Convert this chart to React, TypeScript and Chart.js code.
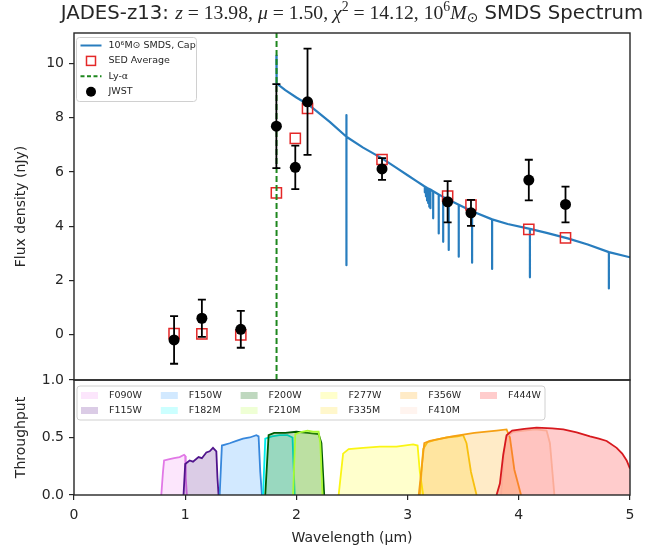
import React, { useEffect, useRef } from "react";
import { Chart, registerables } from "chart.js";

Chart.register(...registerables);

// ---------------- text ----------------
const TITLE = "JADES-z13: z = 13.98, μ = 1.50, χ² = 14.12, 10⁶M⊙ SMDS Spectrum";
const X_LABEL = "Wavelength (μm)";
const Y_FLUX_LABEL = "Flux density (nJy)";
const Y_THRU_LABEL = "Throughput";
const SPEC_LABEL = "10⁶M⊙ SMDS, Cap";
const SED_LABEL = "SED Average";
const LYA_LABEL = "Ly-α";
const JWST_LABEL = "JWST";

// ---------------- axes ----------------
const X_TICKS = [0, 1, 2, 3, 4, 5];
const FLUX_TICKS = [0, 2, 4, 6, 8, 10];
const THRU_TICKS = [0, 0.5, 1.0];
const X_MIN = 0;
const X_MAX = 5;
const FLUX_MIN = -1.68;
const FLUX_MAX = 11.13;
const THRU_MIN = 0;
const THRU_MAX = 1;

// ---------------- photometry ----------------
const PHOT_WAVE = [0.9, 1.15, 1.5, 1.82, 1.99, 2.1, 2.77, 3.36, 3.57, 4.09, 4.42];
const JWST_FLUX = [-0.2, 0.6, 0.19, 7.69, 6.17, 8.59, 6.11, 4.9, 4.49, 5.7, 4.8];
const JWST_ERR = [0.88, 0.69, 0.68, 1.55, 0.8, 1.96, 0.4, 0.76, 0.48, 0.75, 0.66];
const SED_FLUX = [0.03, 0.02, -0.02, 5.23, 7.24, 8.35, 6.46, 5.11, 4.78, 3.88, 3.57];
const LYA_WAVE = 1.8215;

// ---------------- model spectrum ----------------
const SPEC_WAVE = [
  1.82, 1.822, 1.9, 2.0, 2.12, 2.3,
  2.45, 2.45, 2.45, 2.45,
  2.6, 2.77, 2.9, 3.0, 3.08, 3.14,
  3.155, 3.155, 3.155,
  3.165, 3.165, 3.165,
  3.175, 3.175, 3.175,
  3.185, 3.185, 3.185,
  3.195, 3.195, 3.195,
  3.205, 3.205, 3.205,
  3.23, 3.23, 3.23,
  3.28, 3.28, 3.28,
  3.32, 3.32, 3.32,
  3.37, 3.37, 3.37,
  3.46, 3.46, 3.46,
  3.58, 3.58, 3.58,
  3.76, 3.76, 3.76,
  3.9, 4.1, 4.1, 4.1,
  4.25, 4.44, 4.62, 4.81, 4.81, 4.81, 5.0,
];
const SPEC_FLUX = [
  10.3, 9.27, 9.02, 8.75, 8.45, 7.85,
  7.3, 8.1, 2.56, 7.3,
  6.9, 6.5, 6.15, 5.88, 5.66, 5.5,
  5.46, 5.25, 5.46,
  5.44, 5.1, 5.44,
  5.41, 4.95, 5.41,
  5.39, 4.85, 5.39,
  5.37, 4.72, 5.37,
  5.35, 4.66, 5.35,
  5.29, 4.29, 5.29,
  5.17, 3.73, 5.17,
  5.08, 3.42, 5.08,
  4.97, 3.12, 4.97,
  4.79, 2.87, 4.79,
  4.55, 2.65, 4.55,
  4.25, 2.42, 4.25,
  4.08, 3.9, 2.11, 3.9,
  3.75, 3.55, 3.32, 3.04, 1.7, 3.04, 2.85,
];

// ---------------- filter throughputs ----------------
const F090W_WAVE = [0.785, 0.8, 0.81, 0.85, 0.9, 0.95, 0.99, 1.0, 1.005, 1.015];
const F090W_THRU = [0, 0.2, 0.3, 0.31, 0.32, 0.33, 0.35, 0.34, 0.15, 0];
const F115W_WAVE = [0.985, 1.0, 1.04, 1.07, 1.12, 1.15, 1.19, 1.22, 1.25, 1.28, 1.29, 1.3];
const F115W_THRU = [0, 0.27, 0.3, 0.29, 0.33, 0.32, 0.37, 0.38, 0.41, 0.38, 0.15, 0];
const F150W_WAVE = [1.31, 1.33, 1.4, 1.46, 1.52, 1.58, 1.64, 1.66, 1.675, 1.69];
const F150W_THRU = [0, 0.43, 0.45, 0.47, 0.49, 0.5, 0.52, 0.51, 0.2, 0];
const F182M_WAVE = [1.7, 1.72, 1.78, 1.85, 1.92, 1.965, 1.985];
const F182M_THRU = [0, 0.49, 0.51, 0.52, 0.52, 0.5, 0];
const F200W_WAVE = [1.72, 1.75, 1.8, 1.9, 2.0, 2.1, 2.2, 2.225, 2.25];
const F200W_THRU = [0, 0.52, 0.54, 0.54, 0.55, 0.54, 0.53, 0.45, 0];
const F210M_WAVE = [1.97, 1.99, 2.05, 2.1, 2.15, 2.2, 2.215, 2.235];
const F210M_THRU = [0, 0.53, 0.55, 0.56, 0.55, 0.55, 0.45, 0];
const F277W_WAVE = [2.38, 2.42, 2.47, 2.6, 2.75, 2.9, 3.05, 3.09, 3.11, 3.14];
const F277W_THRU = [0, 0.36, 0.4, 0.41, 0.42, 0.42, 0.44, 0.43, 0.2, 0];
const F335M_WAVE = [3.11, 3.14, 3.18, 3.25, 3.35, 3.45, 3.5, 3.53, 3.57, 3.62];
const F335M_THRU = [0, 0.4, 0.46, 0.48, 0.5, 0.51, 0.52, 0.45, 0.2, 0];
const F356W_WAVE = [3.1, 3.15, 3.2, 3.4, 3.6, 3.8, 3.89, 3.92, 3.96, 4.02];
const F356W_THRU = [0, 0.45, 0.47, 0.51, 0.54, 0.56, 0.57, 0.5, 0.22, 0];
const F410M_WAVE = [3.84, 3.88, 3.95, 4.05, 4.15, 4.25, 4.28, 4.32];
const F410M_THRU = [0, 0.5, 0.55, 0.56, 0.57, 0.56, 0.45, 0];
const F444W_WAVE = [3.8, 3.83, 3.86, 3.89, 3.94, 4.05, 4.16, 4.3, 4.4, 4.52, 4.64, 4.72, 4.79, 4.88, 4.93, 4.97, 5.0, 5.03, 5.06];
const F444W_THRU = [0, 0.1, 0.35, 0.52, 0.56, 0.575, 0.585, 0.58, 0.57, 0.545, 0.51, 0.49, 0.47, 0.41, 0.36, 0.3, 0.23, 0.12, 0];

const FILTERS = [
  { name: "F090W", wave: F090W_WAVE, thru: F090W_THRU, line: "rgb(225,120,230)", fill: "rgba(238,130,238,0.2)" },
  { name: "F115W", wave: F115W_WAVE, thru: F115W_THRU, line: "rgb(80,20,140)", fill: "rgba(75,0,130,0.2)" },
  { name: "F150W", wave: F150W_WAVE, thru: F150W_THRU, line: "rgb(55,135,220)", fill: "rgba(30,144,255,0.2)" },
  { name: "F182M", wave: F182M_WAVE, thru: F182M_THRU, line: "rgb(0,235,235)", fill: "rgba(0,255,255,0.2)" },
  { name: "F200W", wave: F200W_WAVE, thru: F200W_THRU, line: "rgb(0,90,0)", fill: "rgba(0,100,0,0.25)" },
  { name: "F210M", wave: F210M_WAVE, thru: F210M_THRU, line: "rgb(170,250,50)", fill: "rgba(173,255,47,0.2)" },
  { name: "F277W", wave: F277W_WAVE, thru: F277W_THRU, line: "rgb(250,245,20)", fill: "rgba(255,255,0,0.2)" },
  { name: "F335M", wave: F335M_WAVE, thru: F335M_THRU, line: "rgb(245,200,20)", fill: "rgba(255,215,0,0.2)" },
  { name: "F356W", wave: F356W_WAVE, thru: F356W_THRU, line: "rgb(245,160,20)", fill: "rgba(255,165,0,0.22)" },
  { name: "F410M", wave: F410M_WAVE, thru: F410M_THRU, line: "rgb(250,215,190)", fill: "rgba(255,200,175,0.2)" },
  { name: "F444W", wave: F444W_WAVE, thru: F444W_THRU, line: "rgb(215,25,30)", fill: "rgba(255,0,0,0.2)" },
];

// ---------------- styles ----------------
const SANS = "'DejaVu Sans', sans-serif";
const SERIF = "'Liberation Serif', 'DejaVu Serif', serif";
const INK = "#262626";
const SPEC_COLOR = "rgb(40,125,190)";
const SED_COLOR = "rgb(228,40,40)";
const LYA_COLOR = "rgb(30,135,30)";

const pts = (xs: number[], ys: number[]) => xs.map((x, i) => ({ x, y: ys[i] }));

const TITLE_SEGMENTS = [
  { t: "JADES-z13: ", f: "sans" },
  { t: "z", f: "ital" },
  { t: " = 13.98, ", f: "serif" },
  { t: "μ", f: "ital" },
  { t: " = 1.50, ", f: "serif" },
  { t: "χ", f: "ital" },
  { t: "2", f: "sup" },
  { t: " = 14.12, ", f: "serif" },
  { t: "10", f: "serif" },
  { t: "6", f: "sup" },
  { t: "M", f: "ital" },
  { t: "⊙", f: "sub" },
  { t: " SMDS Spectrum", f: "sans" },
];

const titlePlugin = {
  id: "mixedTitle",
  afterDraw(chart: any) {
    const ctx = chart.ctx as CanvasRenderingContext2D;
    const size = 19.7;
    const fontFor = (f: string) => {
      if (f === "sans") return `${size}px ${SANS}`;
      if (f === "ital") return `italic ${size}px ${SERIF}`;
      if (f === "sup") return `${size * 0.7}px ${SERIF}`;
      if (f === "sub") return `${size * 0.7}px ${SANS}`;
      return `${size}px ${SERIF}`;
    };
    ctx.save();
    let total = 0;
    const widths = TITLE_SEGMENTS.map((s) => {
      ctx.font = fontFor(s.f);
      const w = ctx.measureText(s.t).width;
      total += w;
      return w;
    });
    const cx = (chart.chartArea.left + chart.chartArea.right) / 2;
    let x = cx - total / 2;
    const base = 19;
    ctx.fillStyle = INK;
    ctx.textBaseline = "alphabetic";
    ctx.textAlign = "left";
    TITLE_SEGMENTS.forEach((s, i) => {
      ctx.font = fontFor(s.f);
      let y = base;
      if (s.f === "sup") y = base - size * 0.4;
      if (s.f === "sub") y = base + size * 0.15;
      ctx.fillText(s.t, x, y);
      x += widths[i];
    });
    ctx.restore();
  },
};

const errorBarPlugin = {
  id: "errorBars",
  beforeDatasetDraw(chart: any, args: any) {
    const ds = chart.data.datasets[args.index];
    if (!ds.errors) return;
    const ctx = chart.ctx as CanvasRenderingContext2D;
    const xs = chart.scales.x;
    const ys = chart.scales[ds.yAxisID];
    ctx.save();
    ctx.strokeStyle = "#000";
    ctx.lineWidth = 1.8;
    ds.data.forEach((p: any, i: number) => {
      const px = xs.getPixelForValue(p.x);
      const top = ys.getPixelForValue(p.y + ds.errors[i]);
      const bot = ys.getPixelForValue(p.y - ds.errors[i]);
      ctx.beginPath();
      ctx.moveTo(px, top);
      ctx.lineTo(px, bot);
      ctx.moveTo(px - 4, top);
      ctx.lineTo(px + 4, top);
      ctx.moveTo(px - 4, bot);
      ctx.lineTo(px + 4, bot);
      ctx.stroke();
    });
    ctx.restore();
  },
};

const framePlugin = {
  id: "panelFrames",
  afterDatasetsDraw(chart: any) {
    const ctx = chart.ctx as CanvasRenderingContext2D;
    const { left, right } = chart.chartArea;
    ctx.save();
    ctx.strokeStyle = INK;
    ctx.lineWidth = 1.4;
    ["yF", "yT"].forEach((id) => {
      const s = chart.scales[id];
      ctx.strokeRect(left, s.top, right - left, s.bottom - s.top);
    });
    ctx.restore();
  },
};

const roundBox = (ctx: CanvasRenderingContext2D, x: number, y: number, w: number, h: number, r: number) => {
  ctx.beginPath();
  ctx.moveTo(x + r, y);
  ctx.lineTo(x + w - r, y);
  ctx.quadraticCurveTo(x + w, y, x + w, y + r);
  ctx.lineTo(x + w, y + h - r);
  ctx.quadraticCurveTo(x + w, y + h, x + w - r, y + h);
  ctx.lineTo(x + r, y + h);
  ctx.quadraticCurveTo(x, y + h, x, y + h - r);
  ctx.lineTo(x, y + r);
  ctx.quadraticCurveTo(x, y, x + r, y);
  ctx.closePath();
};

const legendPlugin = {
  id: "panelLegends",
  afterDraw(chart: any) {
    const ctx = chart.ctx as CanvasRenderingContext2D;
    const dsets = chart.data.datasets;
    const byKey = (k: string) => dsets.find((d: any) => d.key === k);
    ctx.save();
    ctx.font = `9.5px ${SANS}`;
    ctx.textBaseline = "middle";
    ctx.textAlign = "left";

    // top legend
    const l = chart.chartArea.left;
    const tTop = chart.scales.yF.top;
    const bx = l + 2.5, by = tTop + 4.5, bw = 120, bh = 64;
    roundBox(ctx, bx, by, bw, bh, 3);
    ctx.fillStyle = "rgba(255,255,255,0.85)";
    ctx.fill();
    ctx.strokeStyle = "#d0d0d0";
    ctx.lineWidth = 1;
    ctx.stroke();
    const hx0 = bx + 4, hx1 = bx + 25, tx = bx + 32;
    const rows = ["spec", "sed", "lya", "jwst"];
    rows.forEach((k, i) => {
      const d = byKey(k);
      const y = by + 8 + i * 15.4;
      const mid = (hx0 + hx1) / 2;
      ctx.save();
      if (k === "spec" || k === "lya") {
        ctx.strokeStyle = d.borderColor;
        ctx.lineWidth = 2;
        if (k === "lya") ctx.setLineDash([4, 2.5]);
        ctx.beginPath();
        ctx.moveTo(hx0, y);
        ctx.lineTo(hx1, y);
        ctx.stroke();
      } else if (k === "sed") {
        ctx.strokeStyle = d.pointBorderColor;
        ctx.lineWidth = 1.5;
        ctx.strokeRect(mid - 4.5, y - 4.5, 9, 9);
      } else {
        ctx.fillStyle = d.pointBackgroundColor;
        ctx.beginPath();
        ctx.arc(mid, y, 5, 0, Math.PI * 2);
        ctx.fill();
      }
      ctx.restore();
      ctx.fillStyle = INK;
      ctx.fillText(d.label, tx, y);
    });

    // bottom legend
    const lbTop = chart.scales.yT.top;
    const gx = l + 3, gy = lbTop + 6, gw = 468, gh = 34;
    roundBox(ctx, gx, gy, gw, gh, 3);
    ctx.fillStyle = "rgba(255,255,255,0.85)";
    ctx.fill();
    ctx.strokeStyle = "#d0d0d0";
    ctx.lineWidth = 1;
    ctx.stroke();
    const filters = dsets.filter((d: any) => d.isFilter);
    filters.forEach((d: any, i: number) => {
      const col = Math.floor(i / 2);
      const row = i % 2;
      const px = gx + 4 + col * 79.8;
      const py = gy + 9.5 + row * 15;
      ctx.fillStyle = d.backgroundColor;
      ctx.fillRect(px, py - 3.5, 17, 7);
      ctx.fillStyle = INK;
      ctx.fillText(d.label, px + 28, py);
    });
    ctx.restore();
  },
};

const tickFont = { family: SANS, size: 14 };
const titleFont = { family: SANS, size: 14 };
const gridOpts = { drawOnChartArea: false, drawTicks: true, tickLength: 5, color: INK, lineWidth: 1.2 };

const App = () => {
  const ref = useRef<HTMLCanvasElement>(null);
  useEffect(() => {
    if (!ref.current) return;
    const filterSets = FILTERS.map((f, i) => ({
      key: "filter",
      isFilter: true,
      label: f.name,
      data: pts(f.wave, f.thru),
      yAxisID: "yT",
      borderColor: f.line,
      backgroundColor: f.fill,
      borderWidth: 1.8,
      pointRadius: 0,
      fill: "origin",
      showLine: true,
      order: 30 - i,
    }));
    const chart = new Chart(ref.current, {
      type: "line",
      data: {
        datasets: [
          {
            key: "jwst",
            label: JWST_LABEL,
            data: pts(PHOT_WAVE, JWST_FLUX),
            errors: JWST_ERR,
            yAxisID: "yF",
            showLine: false,
            pointRadius: 5.5,
            pointStyle: "circle",
            pointBackgroundColor: "#000",
            pointBorderColor: "#000",
            pointBorderWidth: 0,
            order: 0,
          } as any,
          {
            key: "lya",
            label: LYA_LABEL,
            data: [
              { x: LYA_WAVE, y: FLUX_MIN },
              { x: LYA_WAVE, y: FLUX_MAX },
            ],
            yAxisID: "yF",
            borderColor: LYA_COLOR,
            borderWidth: 2,
            borderDash: [6, 3],
            pointRadius: 0,
            showLine: true,
            order: 1,
          },
          {
            key: "sed",
            label: SED_LABEL,
            data: pts(PHOT_WAVE, SED_FLUX),
            yAxisID: "yF",
            showLine: false,
            pointStyle: "rect",
            pointRadius: 7.2,
            pointBackgroundColor: "rgba(0,0,0,0)",
            pointBorderColor: SED_COLOR,
            pointBorderWidth: 1.5,
            order: 2,
          },
          {
            key: "spec",
            label: SPEC_LABEL,
            data: pts(SPEC_WAVE, SPEC_FLUX),
            yAxisID: "yF",
            borderColor: SPEC_COLOR,
            borderWidth: 2.2,
            borderJoinStyle: "round",
            pointRadius: 0,
            showLine: true,
            order: 3,
          },
          ...filterSets,
        ] as any,
      },
      options: {
        animation: false,
        responsive: false,
        devicePixelRatio: 1,
        events: [],
        layout: { padding: { top: 33, right: 16, bottom: 0, left: 0 } },
        plugins: {
          legend: { display: false },
          tooltip: { enabled: false },
          title: { display: false, text: TITLE },
        },
        scales: {
          x: {
            type: "linear",
            min: X_MIN,
            max: X_MAX,
            afterBuildTicks: (s: any) => {
              s.ticks = X_TICKS.map((value) => ({ value }));
            },
            afterFit: (s: any) => {
              s.height = 52;
            },
            ticks: { font: tickFont, color: INK, padding: 7, maxRotation: 0, callback: (v: any) => String(v) },
            grid: gridOpts,
            border: { display: false },
            title: { display: true, text: X_LABEL, font: titleFont, color: INK, padding: { top: 0, bottom: 0 } },
          },
          yT: {
            type: "linear",
            position: "left",
            stack: "panels",
            stackWeight: 115,
            min: THRU_MIN,
            max: THRU_MAX,
            afterBuildTicks: (s: any) => {
              s.ticks = THRU_TICKS.map((value) => ({ value }));
            },
            afterFit: (s: any) => {
              s.width = 74;
            },
            ticks: { font: tickFont, color: INK, padding: 5, callback: (v: any) => Number(v).toFixed(1) },
            grid: gridOpts,
            border: { display: false },
            title: { display: true, text: Y_THRU_LABEL, font: titleFont, color: INK, padding: { top: 13, bottom: 0 } },
          },
          yF: {
            type: "linear",
            position: "left",
            stack: "panels",
            stackWeight: 347,
            min: FLUX_MIN,
            max: FLUX_MAX,
            afterBuildTicks: (s: any) => {
              s.ticks = FLUX_TICKS.map((value) => ({ value }));
            },
            afterFit: (s: any) => {
              s.width = 74;
            },
            ticks: { font: tickFont, color: INK, padding: 5, callback: (v: any) => String(v) },
            grid: gridOpts,
            border: { display: false },
            title: { display: true, text: Y_FLUX_LABEL, font: titleFont, color: INK, padding: { top: 13, bottom: 0 } },
          },
        },
      } as any,
      plugins: [errorBarPlugin, framePlugin, legendPlugin, titlePlugin],
    });
    return () => chart.destroy();
  }, []);
  return (
    <div style={{ position: "absolute", left: 0, top: 0, width: 646, height: 547, background: "#fff" }}>
      <canvas ref={ref} width={646} height={547} style={{ display: "block" }} />
    </div>
  );
};

export default App;
